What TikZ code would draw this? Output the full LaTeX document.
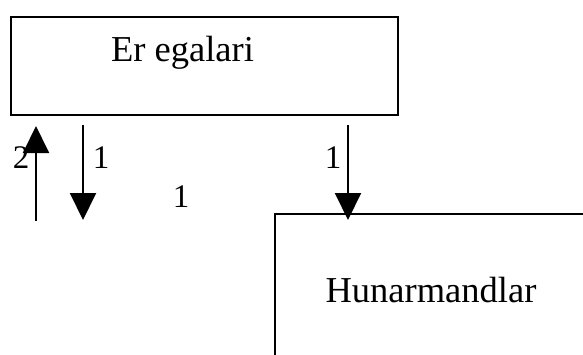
\documentclass[tikz,border=0pt]{standalone}
\usepackage{fontspec}
\setmainfont{Liberation Serif}
\usetikzlibrary{arrows.meta}
\begin{document}
\begin{tikzpicture}[x=1pt,y=-1pt,
  boxst/.style={draw=black,line width=2.2pt,rectangle,inner sep=0pt},
  lbl/.style={inner sep=0pt,font=\fontsize{36.5}{40}\selectfont},
  num/.style={inner sep=0pt,font=\fontsize{33}{36}\selectfont},
  arr/.style={line width=2pt,-{Triangle[length=27pt,width=26pt]}}]
\useasboundingbox (0,0) rectangle (583,354);
\clip (0,0) rectangle (583,354);
% boxes
\node[boxst,minimum width=387pt,minimum height=98pt,anchor=north west] (er) at (10,16) {};
\node[lbl,anchor=base] (ertext) at (182.5,61) {Er egalari};
\node[boxst,minimum width=314pt,minimum height=154pt,anchor=north west] (hun) at (274,213) {};
\node[lbl,anchor=base] (huntext) at (431,302) {Hunarmandlar};
% numbers
\node[num,anchor=base] (n2) at (21,168) {2};
\node[num,anchor=base] (n1a) at (101,168) {1};
\node[num,anchor=base] (n1b) at (181,207) {1};
\node[num,anchor=base] (n1c) at (333,168) {1};
% connector endpoints
\coordinate (upS) at (36,221);
\coordinate (upE) at (36,126);
\coordinate (dnS) at (83,125);
\coordinate (dnE) at (83,220);
\coordinate (rS) at (348,125);
\coordinate (rE) at (348,220);
\draw[arr] (upS) -- (upE);
\draw[arr] (dnS) -- (dnE);
\draw[arr] (rS) -- (rE);
\end{tikzpicture}
\end{document}
